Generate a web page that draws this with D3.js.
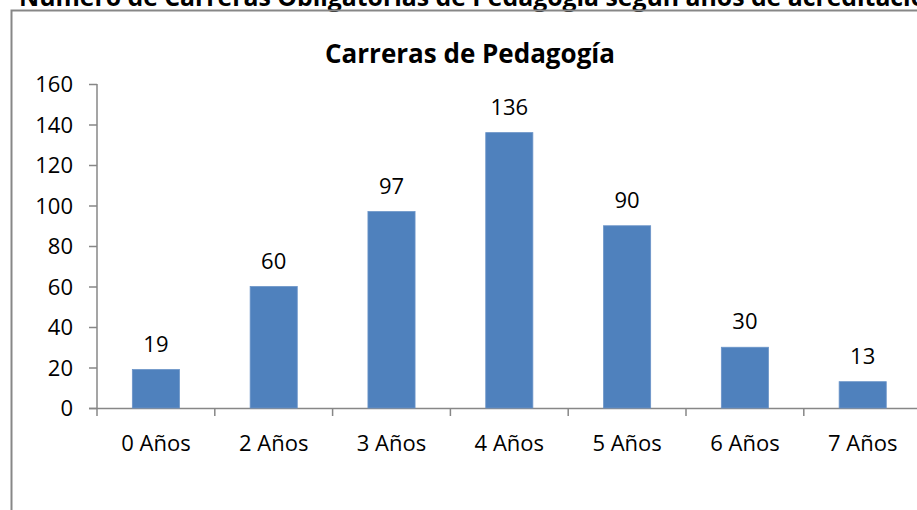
<!DOCTYPE html>
<html><head><meta charset="utf-8">
<script src="https://cdn.jsdelivr.net/npm/d3@7"></script>
<style>
html,body{margin:0;padding:0;background:#fff;overflow:hidden;}
svg{display:block;}
text{font-family:"Open Sans",sans-serif;fill:#000;}
</style></head>
<body>
<svg id="c" width="917" height="510"></svg>
<script>
const categories = ["0 Años","2 Años","3 Años","4 Años","5 Años","6 Años","7 Años"];
const values = [19, 60, 97, 136, 90, 30, 13];
const yTicks = [0,20,40,60,80,100,120,140,160];
const pageTitle = "Número de Carreras Obligatorias de Pedagogía según años de acreditación";
const chartTitle = "Carreras de Pedagogía";

const svg = d3.select("#c");
const W = 917, H = 510;
svg.append("rect").attr("width",W).attr("height",H).attr("fill","#fff");

// page title (clipped at top, as in the source image)
svg.append("text").attr("x",19).attr("y",6)
  .attr("font-weight","bold").attr("font-size",24.8)
  .text(pageTitle);

// chart frame
svg.append("path").attr("d","M11.5,512 V10.5 H920")
  .attr("fill","none").attr("stroke","#878787").attr("stroke-width",2);

svg.append("text").attr("x",470).attr("y",63).attr("text-anchor","middle")
  .attr("font-weight","bold").attr("font-size",26)
  .text(chartTitle);

const x = d3.scaleBand().domain(categories).range([97,921.6]).paddingInner(0.6).paddingOuter(0.3);
const y = d3.scaleLinear().domain([0,160]).range([408,84]);

const gy = svg.append("g").attr("transform","translate(97,0)")
  .call(d3.axisLeft(y).tickValues(yTicks).tickSize(8).tickPadding(16).tickFormat(d3.format("d")));
gy.select(".domain").attr("stroke","#878787").attr("stroke-width",1.5).attr("d","M0,84V408");
gy.selectAll(".tick line").attr("stroke","#878787").attr("stroke-width",1.5);
gy.selectAll(".tick text").attr("font-size",22).attr("font-family","Open Sans").attr("fill","#000").attr("dy","0.35em");

const bands = d3.scaleBand().domain(categories).range([97,921.6]);
const gx = svg.append("g").attr("transform","translate(0,408)")
  .call(d3.axisBottom(bands).tickSize(0).tickPadding(26));
gx.select(".domain").remove();
svg.append("line").attr("x1",89).attr("x2",921).attr("y1",408.5).attr("y2",408.5)
  .attr("stroke","#878787").attr("stroke-width",1.5);
svg.selectAll(".xt").data(categories.map((c,i)=>bands(c)).concat([bands.range()[1]])).join("line")
  .attr("x1",d=>d).attr("x2",d=>d).attr("y1",408).attr("y2",416)
  .attr("stroke","#878787").attr("stroke-width",1.5);
gx.selectAll(".tick text").attr("font-size",22).attr("font-family","Open Sans").attr("fill","#000").attr("dy","0.75em");

svg.selectAll(".bar").data(values).join("rect")
  .attr("x",(d,i)=>x(categories[i])).attr("width",x.bandwidth())
  .attr("y",d=>y(d)).attr("height",d=>y(0)-y(d))
  .attr("fill","#4F81BD").attr("stroke","#6b94c8").attr("stroke-width",0.8);

svg.selectAll(".lbl").data(values).join("text")
  .attr("x",(d,i)=>x(categories[i])+x.bandwidth()/2).attr("y",d=>y(d)-18)
  .attr("text-anchor","middle").attr("font-size",22).text(d=>d);
</script>
</body></html>
